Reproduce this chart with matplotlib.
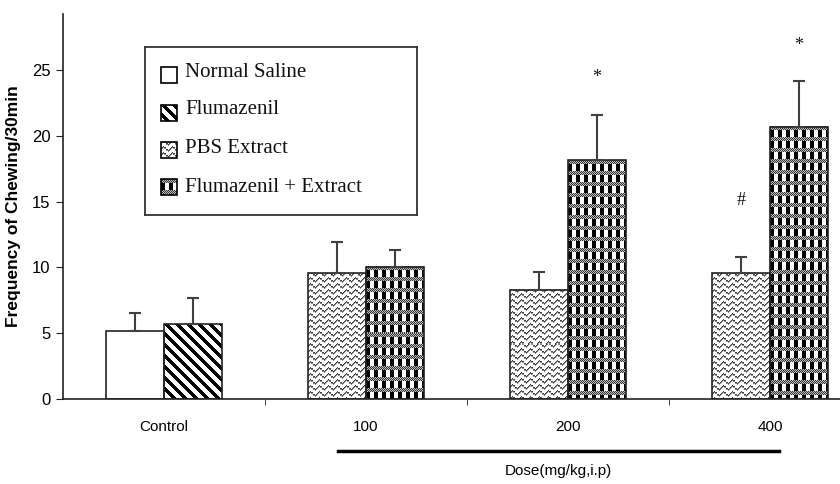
import numpy as np
import matplotlib
matplotlib.use("Agg")
from matplotlib import pyplot as plt
from matplotlib.patches import Rectangle

# data
groups = ["Control", "100", "200", "400"]
series = ["Normal Saline", "Flumazenil", "PBS Extract", "Flumazenil + Extract"]
left_vals = [5.2, 9.55, 8.3, 9.55]       # Normal Saline (control) / PBS Extract
left_err = [1.3, 2.4, 1.35, 1.25]
right_vals = [5.7, 10.05, 18.15, 20.7]   # Flumazenil (control) / Flumazenil + Extract
right_err = [1.95, 1.25, 3.4, 3.5]
left_kind = ["plain", "wave", "wave", "wave"]
right_kind = ["stripe", "check", "check", "check"]
marks = [(2, "right", "*", 24.4), (3, "right", "*", 26.9), (3, "left", "#", 15.1)]

W, H = 840, 484
YMAX = 29.26
bar_w = 0.285

SANS = ["Liberation Sans Narrow", "Liberation Sans", "DejaVu Sans"]
SERIF = ["Liberation Serif", "DejaVu Serif"]


def texture(kind, w, h):
    """pixel pattern (h, w, 3) used to imitate the old excel fills"""
    w = max(int(round(w)), 1)
    h = max(int(round(h)), 1)
    yy, xx = np.mgrid[0:h, 0:w]
    img = np.ones((h, w, 3))
    if kind == "stripe":
        dark = ((xx - yy) % 11) < 5
        img[dark] = 0.0
    elif kind == "wave":
        off = np.round(1.6 * np.sin(2 * np.pi * xx / 9.0)).astype(int)
        r = (yy + off) % 6
        img[r == 0] = 0.25
        img[r == 1] = 0.55
    elif kind == "check":
        band = (yy % 11) < 4
        img[band & ((xx + yy) % 2 == 0)] = 0.2
        img[band & ((xx + yy) % 2 == 1)] = 0.75
        sq = ((yy % 11) >= 4) & ((xx % 8) < 4)
        img[sq] = 0.0
    return img


fig = plt.figure(figsize=(W / 100, H / 100), dpi=100)
ax = fig.add_axes([63 / W, 1 - 399 / H, 808 / W, 385 / H])
px_cat = 202.0
px_y = 385.0 / YMAX

x = np.arange(len(groups))
edge = "#222222"
for i in range(len(groups)):
    for side, vals, errs, kinds in (("left", left_vals, left_err, left_kind),
                                    ("right", right_vals, right_err, right_kind)):
        x0 = i + 0.5 - bar_w if side == "left" else i + 0.5
        v = vals[i]
        tex = texture(kinds[i], bar_w * px_cat, v * px_y)
        ax.imshow(tex, extent=(x0, x0 + bar_w, 0, v), aspect="auto",
                  interpolation="nearest", zorder=2)
        ax.bar(x0, v, width=bar_w, align="edge", fill=False,
               edgecolor=edge, linewidth=1.2, zorder=3)
        ax.errorbar(x0 + bar_w / 2, v, yerr=[[0], [errs[i]]], fmt="none",
                    ecolor="#404040", elinewidth=1.5, capsize=4, capthick=1.5,
                    zorder=4)

for gi, side, sym, yy in marks:
    xc = gi + 0.5 - bar_w / 2 if side == "left" else gi + 0.5 + bar_w / 2
    ax.text(xc, yy, sym, ha="center", va="center", fontsize=13,
            family=SERIF, color="#111111")

ax.set_xlim(0, 4)
ax.set_ylim(0, YMAX)
ax.set_xticks(x + 0.5)
ax.set_xticklabels(groups, family=SANS, fontsize=11)
ax.set_xticks([1, 2, 3], minor=True)
ax.tick_params(axis="x", which="major", length=0, pad=15)
ax.tick_params(axis="x", which="minor", length=4, direction="out", color=edge)
ax.set_yticks([0, 5, 10, 15, 20, 25])
ax.set_yticklabels(["0", "5", "10", "15", "20", "25"], family=SANS, fontsize=12)
ax.tick_params(axis="y", length=5, direction="out", color=edge, pad=4)
for s in ("top", "right"):
    ax.spines[s].set_visible(False)
for s in ("left", "bottom"):
    ax.spines[s].set_color(edge)
    ax.spines[s].set_linewidth(1.2)

ax.set_ylabel("Frequency of Chewing/30min", fontsize=12.5, fontweight="bold",
              family=["Liberation Sans", "DejaVu Sans"], labelpad=8)

# dose bracket under the extract groups
ax.plot([1.36, 3.545], [-3.95, -3.95], color="black", lw=2.5, clip_on=False)
ax.text(2.45, -5.45, "Dose(mg/kg,i.p)", ha="center", va="center",
        fontsize=11, family=SANS)

# legend drawn by hand so the fills can be shown
lg = fig.add_axes([145 / W, 1 - 215 / H, 272 / W, 168 / H])
lg.set_xticks([])
lg.set_yticks([])
for s in lg.spines.values():
    s.set_color("#333333")
    s.set_linewidth(1.3)
leg_kinds = ["plain", "stripe", "wave", "check"]
sq_top = [20, 58, 95, 132]
base = [30, 67, 106, 145]
for k, lab, t, b in zip(leg_kinds, series, sq_top, base):
    lg.imshow(texture(k, 16, 16), extent=(16, 32, t + 16, t), aspect="auto",
              interpolation="nearest")
    lg.add_patch(Rectangle((16, t), 16, 16, fill=False, edgecolor="black", lw=1.2))
    lg.text(40, b, lab, va="baseline", ha="left", fontsize=15, family=SERIF,
            color="#111111")
lg.set_xlim(0, 272)
lg.set_ylim(168, 0)

fig.savefig("out.png", dpi=100)
